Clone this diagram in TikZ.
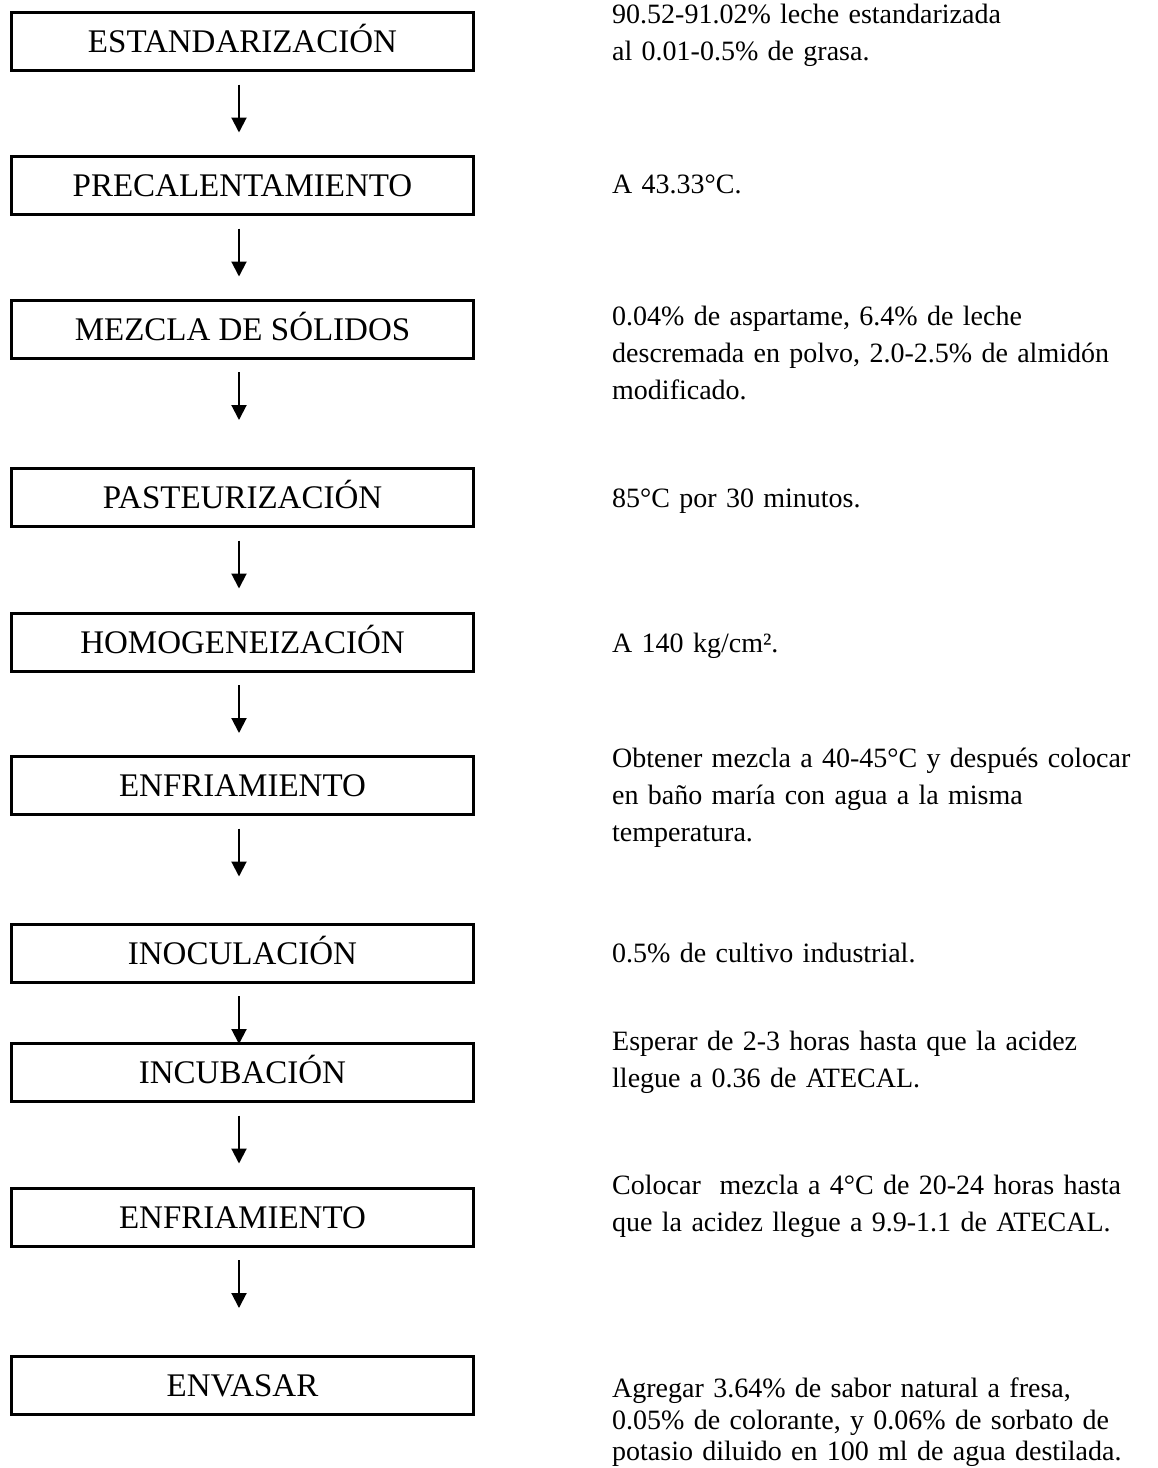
\documentclass[tikz,border=0pt]{standalone}
\usepackage{fontspec}
\setmainfont{Liberation Serif}
\usetikzlibrary{arrows.meta}
\begin{document}
\begin{tikzpicture}[x=1pt,y=-1pt,
  stepbox/.style={draw=black, line width=3pt, minimum width=462pt, minimum height=58pt,
    inner sep=0pt, text height=22pt, text depth=0pt, font=\fontsize{33pt}{37pt}\selectfont},
  note/.style={anchor=base west, inner sep=0pt, text width=544pt, align=left,
    font=\fontsize{28pt}{37pt}\selectfont},
  flow/.style={line width=2pt, -{Triangle[width=15pt,length=15pt]}}]
\useasboundingbox (0,0) rectangle (1158,1468);
\fill[white] (0,0) rectangle (1158,1468);

\node[stepbox] (b1) at (242.5,41.5) {ESTANDARIZACIÓN};
\node[stepbox] (b2) at (242.5,185.5) {PRECALENTAMIENTO};
\node[stepbox] (b3) at (242.5,329) {MEZCLA DE SÓLIDOS};
\node[stepbox] (b4) at (242.5,497.5) {PASTEURIZACIÓN};
\node[stepbox] (b5) at (242.5,642) {HOMOGENEIZACIÓN};
\node[stepbox] (b6) at (242.5,785.5) {ENFRIAMIENTO};
\node[stepbox] (b7) at (242.5,953) {INOCULACIÓN};
\node[stepbox] (b8) at (242.5,1072.5) {INCUBACIÓN};
\node[stepbox] (b9) at (242.5,1217) {ENFRIAMIENTO};
\node[stepbox] (b10) at (242.5,1385.5) {ENVASAR};

\foreach \b in {b1,b2,b3,b4,b5,b6,b7,b8,b9}
  \draw[flow] ([xshift=-3.5pt,yshift=-12.5pt]\b.south) -- ++(0,48);

\node[note] (t1) at (612,23) {90.52-91.02\% leche estandarizada\\al 0.01-0.5\% de grasa.};
\node[note] (t2) at (612,193) {A 43.33°C.};
\node[note] (t3) at (612,325) {0.04\% de aspartame, 6.4\% de leche\\descremada en polvo, 2.0-2.5\% de almidón\\modificado.};
\node[note] (t4) at (612,507) {85°C por 30 minutos.};
\node[note] (t5) at (612,652) {A 140 kg/cm².};
\node[note] (t6) at (612,767) {Obtener mezcla a 40-45°C y después colocar\\en baño maría con agua a la misma\\temperatura.};
\node[note] (t7) at (612,962) {0.5\% de cultivo industrial.};
\node[note] (t8) at (612,1050) {Esperar de 2-3 horas hasta que la acidez\\llegue a 0.36 de ATECAL.};
\node[note] (t9) at (612,1194) {Colocar\ \ mezcla a 4°C de 20-24 horas hasta\\que la acidez llegue a 9.9-1.1 de ATECAL.};
\node[note] (t10) at (612,1397) {Agregar 3.64\% de sabor natural a fresa,\\[-5pt]0.05\% de colorante, y 0.06\% de sorbato de\\[-6pt]potasio diluido en 100 ml de agua destilada.};
\end{tikzpicture}
\end{document}
